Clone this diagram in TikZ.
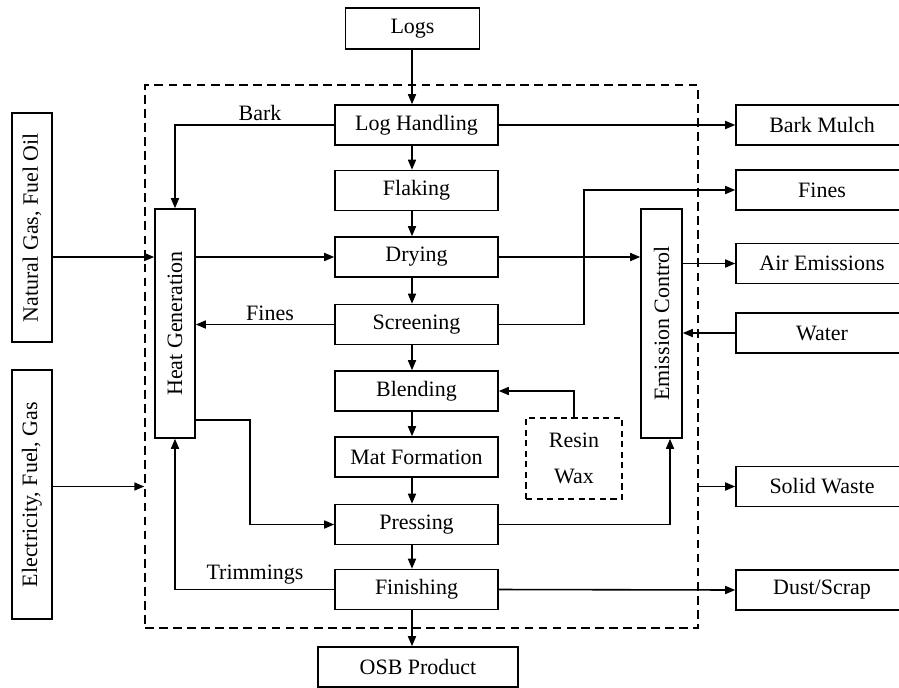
\documentclass[tikz,border=0pt]{standalone}
\usepackage{fontspec}
\setmainfont{Liberation Serif}
\usetikzlibrary{arrows.meta,calc}
\begin{document}
\begin{tikzpicture}[x=0.02cm,y=-0.02cm,
  every node/.style={font=\fontsize{12.5}{15}\selectfont},
  box/.style={draw, line width=0.9pt, inner sep=0pt, minimum width=3.26cm, minimum height=0.8cm},
  vbox/.style={draw, line width=0.9pt, inner sep=0pt, minimum width=0.8cm, minimum height=4.58cm},
  rbox/.style={draw, line width=0.9pt, inner sep=0pt, minimum width=3.44cm, minimum height=0.8cm},
  lbl/.style={anchor=base, inner sep=0pt},
  arr/.style={line width=0.9pt, -{Triangle[length=0.2cm,width=0.16cm]}},
  ln/.style={line width=0.9pt}]
\clip (0,0) rectangle (899,687);
\fill[white] (0,0) rectangle (899,687);
% plant boundary
\node[draw, dash pattern=on 5pt off 3pt, line width=0.9pt, minimum width=11.06cm, minimum height=10.86cm, inner sep=0pt] (plant) at (421.5,356.5) {};
% column
\node[box, minimum width=2.68cm, minimum height=0.82cm] (logs) at (412.5,28.5) {Logs};
\node[box] (lh) at (416.5,125) {Log Handling};
\node[box] (fl) at (416.5,190.5) {Flaking};
\node[box] (dry) at (416.5,257) {Drying};
\node[box] (scr) at (416.5,324.5) {Screening};
\node[box] (bl) at (416.5,391) {Blending};
\node[box] (mat) at (416.5,457) {Mat Formation};
\node[box] (pr) at (416.5,524.5) {Pressing};
\node[box] (fin) at (416.5,589.5) {Finishing};
\node[box, minimum width=4cm] (osb) at (418,667) {OSB Product};
% vertical boxes
\node[vbox] (heat) at (175,323.5) {\rotatebox{90}{Heat Generation}};
\node[vbox, minimum width=0.82cm] (emis) at (661.5,323.5) {\rotatebox{90}{Emission Control}};
\node[vbox] (ng) at (32,227.5) {\rotatebox{90}{Natural Gas, Fuel Oil}};
\node[vbox, minimum height=4.98cm] (el) at (32,494.5) {\rotatebox{90}{Electricity, Fuel, Gas}};
% right boxes
\node[rbox] (bm) at (822,125) {Bark Mulch};
\node[rbox] (fines) at (822,190) {Fines};
\node[rbox] (air) at (822,263.5) {Air Emissions};
\node[rbox] (water) at (822,333) {Water};
\node[rbox] (sw) at (822,486.5) {Solid Waste};
\node[rbox] (dust) at (822,590) {Dust/Scrap};
% resin
\node[draw, dash pattern=on 3.5pt off 2.5pt, line width=0.9pt, minimum width=1.92cm, minimum height=1.62cm, inner sep=0pt, align=center] (resin) at (574,458.5) {Resin\\[5.5pt]Wax};
% helper coordinates
\coordinate (col) at (412,0);
\coordinate (fx) at (584,0);
\coordinate (hp) at (250,420);
\coordinate (ex) at (670,0);
% main flow
\draw[arr] (logs.south -| col) -- (lh.north -| col);
\draw[arr] (lh.south -| col) -- (fl.north -| col);
\draw[arr] (fl.south -| col) -- (dry.north -| col);
\draw[arr] (dry.south -| col) -- (scr.north -| col);
\draw[arr] (scr.south -| col) -- (bl.north -| col);
\draw[arr] (bl.south -| col) -- (mat.north -| col);
\draw[arr] (mat.south -| col) -- (pr.north -| col);
\draw[arr] (pr.south -| col) -- (fin.north -| col);
\draw[arr] (fin.south -| col) -- (osb.north -| col);
% side flows
\draw[arr] (lh.west) -| (heat.north);
\node[lbl] at (260,120) {Bark};
\draw[arr] (lh.east) -- (bm.west);
\draw[arr] (ng.east |- dry.west) -- (heat.west |- dry.west);
\draw[arr] (heat.east |- dry.west) -- (dry.west);
\draw[arr] (dry.east) -- (emis.west |- dry.east);
\draw[arr] (scr.west) -- (heat.east |- scr.west);
\node[lbl] at (270,320) {Fines};
\draw[arr] (scr.east) -| (fx |- fines.west) -- (fines.west);
\draw[arr] (emis.east |- air.west) -- (air.west);
\draw[arr] (water.west) -- (emis.east |- water.west);
\draw[arr] (resin.north) |- (bl.east);
\draw[arr] (heat.east |- hp) -| (hp |- pr.west) -- (pr.west);
\draw[arr] (pr.east) -| (ex |- emis.south);
\draw[arr] (el.east |- sw.west) -- (plant.west |- sw.west);
\draw[arr] (plant.east |- sw.west) -- (sw.west);
\draw[arr] (fin.west) -| (heat.south);
\node[lbl] at (255,579) {Trimmings};
\draw[arr] (fin.east) -- (dust.west);
\end{tikzpicture}
\end{document}
